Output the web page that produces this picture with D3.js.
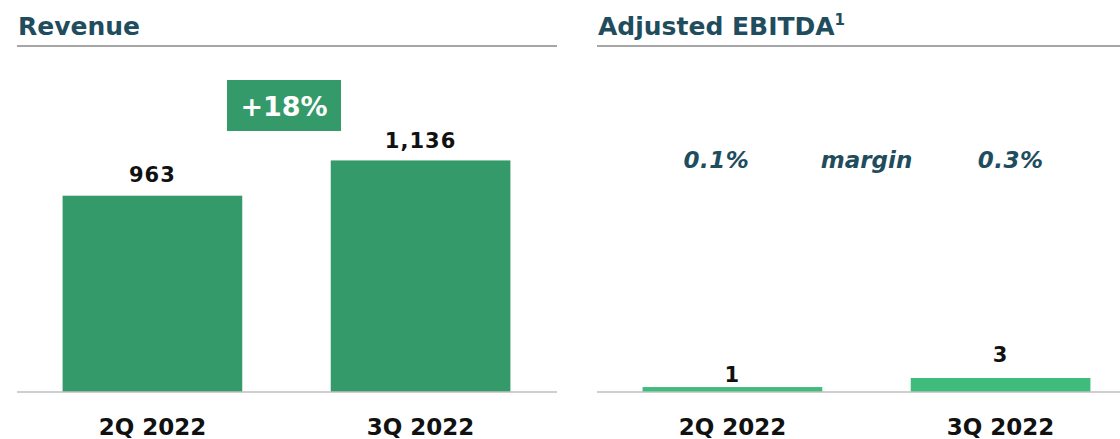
<!DOCTYPE html>
<html>
<head>
<meta charset="utf-8">
<script src="https://cdn.jsdelivr.net/npm/d3@7"></script>
<style>
  body { margin: 0; background: #fff; }
  text { font-family: "DejaVu Sans", sans-serif; }
</style>
</head>
<body>
<div id="chart"></div>
<script>
// data
var quarters = ["2Q 2022", "3Q 2022"];
var revenue = [963, 1136];
var ebitda = [1.2, 3.4];
var ebitdaLabels = ["1", "3"];
var margins = ["0.1%", "0.3%"];
var growthLabel = "+18%";

var W = 1120, H = 439;
var baseY = 392;
var titleColor = "#1f4d5e";

var svg = d3.select("#chart").append("svg")
    .attr("width", W)
    .attr("height", H);

function panel(opts) {
    var g = svg.append("g");

    // title + rule
    var t = g.append("text")
        .attr("x", opts.x0 + 1)
        .attr("y", 35)
        .attr("fill", titleColor)
        .attr("font-weight", "bold")
        .attr("font-size", 25)
        .text(opts.title);
    if (opts.sup) {
        t.append("tspan")
            .attr("font-size", 15)
            .attr("dy", -10)
            .text(opts.sup);
    }
    g.append("line")
        .attr("x1", opts.x0).attr("x2", opts.x1)
        .attr("y1", 46).attr("y2", 46)
        .attr("stroke", "#a6a6a6")
        .attr("stroke-width", 2);

    var x = d3.scaleBand()
        .domain(quarters)
        .range([opts.x0, opts.x0 + 539])
        .paddingInner(0.33)
        .paddingOuter(0.17);

    var y = d3.scaleLinear()
        .domain([0, opts.max])
        .range([baseY, baseY - opts.px]);

    // bars
    g.selectAll("rect.bar")
        .data(opts.values)
        .enter().append("rect")
        .attr("class", "bar")
        .attr("x", function (d, i) { return x(quarters[i]); })
        .attr("y", function (d) { return y(d); })
        .attr("width", x.bandwidth())
        .attr("height", function (d) { return baseY - y(d); })
        .attr("fill", opts.color);

    // baseline
    g.append("line")
        .attr("x1", opts.x0).attr("x2", opts.x1)
        .attr("y1", baseY).attr("y2", baseY)
        .attr("stroke", "#bfbfbf")
        .attr("stroke-width", 1.5);

    // value labels
    g.selectAll("text.val")
        .data(opts.values)
        .enter().append("text")
        .attr("class", "val")
        .attr("x", function (d, i) { return x(quarters[i]) + x.bandwidth() / 2; })
        .attr("y", function (d, i) { return y(d) - opts.gap[i]; })
        .attr("text-anchor", "middle")
        .attr("font-weight", "bold")
        .attr("font-size", 21)
        .attr("letter-spacing", 1)
        .attr("fill", "#111")
        .text(function (d, i) { return opts.labels[i]; });

    // category labels
    var xAxis = d3.axisBottom(x).tickSize(0).tickPadding(0);
    var ax = g.append("g")
        .attr("transform", "translate(0," + baseY + ")")
        .call(xAxis);
    ax.select(".domain").remove();
    ax.selectAll("text")
        .attr("y", 43)
        .attr("dy", 0)
        .attr("font-family", "DejaVu Sans, sans-serif")
        .attr("font-weight", "bold")
        .attr("font-size", 23)
        .attr("fill", "#111");

    return {x: x, y: y, g: g};
}

var left = panel({
    x0: 17, x1: 557, title: "Revenue",
    values: revenue, labels: revenue.map(d3.format(",")),
    max: 1300, px: 265, color: "#359a69", gap: [14, 12]
});

var right = panel({
    x0: 597, x1: 1120, title: "Adjusted EBITDA", sup: "1",
    values: ebitda, labels: ebitdaLabels,
    max: 60, px: 247, color: "#3fbc7c", gap: [5, 16]
});

// growth box
var box = left.g.append("g").attr("transform", "translate(227,80)");
box.append("rect")
    .attr("width", 114)
    .attr("height", 51)
    .attr("fill", "#359a69");
box.append("text")
    .attr("x", 57)
    .attr("y", 36)
    .attr("text-anchor", "middle")
    .attr("fill", "#fff")
    .attr("font-weight", "bold")
    .attr("font-size", 27)
    .text(growthLabel);

// margin row
var mg = right.g;
mg.selectAll("text.margin")
    .data(margins)
    .enter().append("text")
    .attr("class", "margin")
    .attr("x", function (d, i) { return right.x(quarters[i]) + right.x.bandwidth() / 2 + (i === 0 ? -16 : 10); })
    .attr("y", 168)
    .attr("text-anchor", "middle")
    .attr("font-style", "italic")
    .attr("font-weight", "bold")
    .attr("font-size", 23)
    .attr("letter-spacing", 0.5)
    .attr("fill", titleColor)
    .text(function (d) { return d; });
mg.append("text")
    .attr("x", (right.x(quarters[0]) + right.x(quarters[1]) + right.x.bandwidth()) / 2)
    .attr("y", 168)
    .attr("text-anchor", "middle")
    .attr("font-style", "italic")
    .attr("font-weight", "bold")
    .attr("font-size", 23)
    .attr("fill", titleColor)
    .text("margin");
</script>
</body>
</html>
